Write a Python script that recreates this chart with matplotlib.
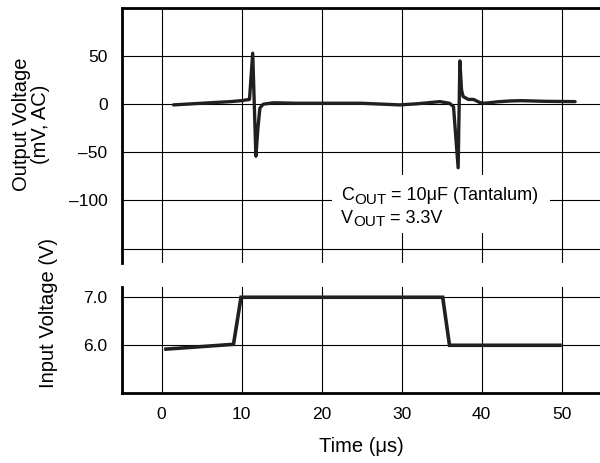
import matplotlib
matplotlib.use("Agg")
import matplotlib.pyplot as plt
from matplotlib.patches import Rectangle

plt.rcParams['font.family'] = ['Liberation Sans', 'DejaVu Sans']

# output voltage trace (us, mV AC)
t_out = [1.5, 5.0, 8.6, 10.0, 11.0, 11.4, 11.8, 12.05, 12.3, 12.7, 14.0, 17.0, 20.0, 25.0,
         29.8, 32.0, 34.8, 36.0, 36.5, 37.08, 37.3, 37.5, 37.7, 38.35, 39.0, 39.8, 40.4,
         42.0, 43.6, 45.0, 48.0, 51.7]
v_out = [-0.7, 1.0, 2.7, 3.7, 5.0, 53.0, -54.0, -25.0, -4.0, 0.0, 1.5, 1.0, 1.0, 1.0,
         -0.7, 0.5, 2.7, 1.0, -2.5, -66.0, 45.0, 15.0, 8.0, 5.0, 5.0, 1.7, 1.0,
         2.5, 3.4, 3.7, 3.0, 2.7]

# input voltage step (us, V)
t_in = [0.56, 9.0, 9.94, 35.15, 36.0, 49.8]
v_in = [5.92, 6.02, 7.0, 7.0, 6.0, 6.0]

x_ticks = [0, 10, 20, 30, 40, 50]
out_ticks = [50, 0, -50, -100]
out_grid = [50, 0, -50, -100, -150]
in_ticks = [6.0, 7.0]

W, H = 600, 463
fig = plt.figure(figsize=(W / 100, H / 100), dpi=100)

def px_axes(x0, y0, x1, y1):
    # axes from pixel box (top-left origin)
    return fig.add_axes([x0 / W, 1 - y1 / H, (x1 - x0) / W, (y1 - y0) / H])

ax1 = px_axes(121.5, 8, 601.5, 263)
ax2 = px_axes(121.5, 286.7, 601.5, 393.3)

for ax in (ax1, ax2):
    ax.set_xlim(-5, 55)
    ax.set_xticks(x_ticks)
    ax.tick_params(length=0, labelsize=12.5, pad=10)
    ax.grid(True, color='black', lw=0.8)
    ax.set_axisbelow(True)
    for s in ax.spines.values():
        s.set_visible(False)
    ax.spines['left'].set_visible(True)
    ax.spines['left'].set_linewidth(2)

ax1.spines['top'].set_visible(True)
ax1.spines['top'].set_linewidth(2)
ax1.set_ylim(-165, 100)
ax1.set_yticks(out_grid)
ax1.set_yticklabels([str(v).replace('-', '\u2013') if v in out_ticks else '' for v in out_grid])
ax1.tick_params(axis='x', labelbottom=False)
ax1.plot(t_out, v_out, color='#231f20', lw=2.4, solid_joinstyle='round',
         solid_capstyle='round', zorder=5)

ax2.spines['bottom'].set_visible(True)
ax2.spines['bottom'].set_linewidth(2)
ax2.set_ylim(5.0, 7.22)
ax2.set_yticks(in_ticks)
ax2.set_yticklabels(['6.0', '7.0'])
ax2.plot(t_in, v_in, color='#231f20', lw=2.6, solid_joinstyle='miter', zorder=5)

# annotation box
ax1.add_patch(Rectangle((21.3, -134), 27.3, 60.4, facecolor='white',
                        edgecolor='none', zorder=3))
fs, fsub = 13, 11
for y, main, sub, rest in [(-100, 'C', 'OUT', ' = 10\u03bcF (Tantalum)'),
                           (-123, 'V', 'OUT', ' = 3.3V')]:
    t1 = ax1.text(22.4, y, main, fontsize=fs, va='baseline', ha='left', zorder=4)
    t2 = ax1.annotate(sub, xy=(1, 0), xycoords=t1, xytext=(0.3, -1.5),
                      textcoords='offset points', fontsize=fsub, va='bottom', zorder=4)
    ax1.annotate(rest, xy=(1, 0), xycoords=(t2, t1), fontsize=fs, va='bottom', zorder=4)

fig.text(31 / W, 1 - 124 / H, 'Output Voltage\n(mV, AC)', rotation=90,
         ha='center', va='center', fontsize=14.5, linespacing=1.05)
fig.text(49 / W, 1 - 312.5 / H, 'Input Voltage (V)', rotation=90,
         ha='center', va='center', fontsize=14.5)
fig.text(361 / W, 1 - 447 / H, 'Time (\u03bcs)', ha='center', va='center', fontsize=14.5)

fig.savefig('out.png', dpi=100)
